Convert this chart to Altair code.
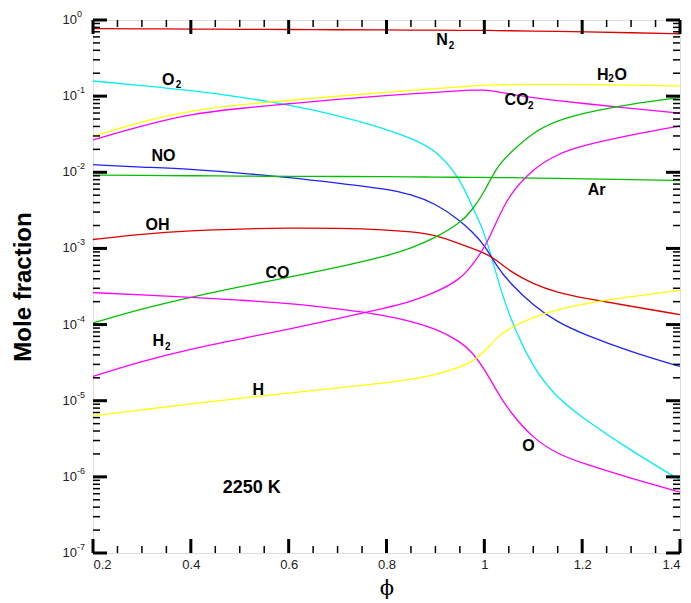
import altair as alt
import pandas as pd

# equivalence ratio grid
phi = [0.2, 0.3, 0.4, 0.5, 0.6, 0.7, 0.8, 0.85, 0.9, 0.95, 0.975, 1.0,
       1.025, 1.05, 1.1, 1.15, 1.2, 1.3, 1.4]

# mole fractions
n2 = [0.77, 0.765, 0.76, 0.755, 0.75, 0.745, 0.74, 0.737, 0.735, 0.732, 0.731, 0.73,
      0.727, 0.723, 0.715, 0.707, 0.70, 0.68, 0.66]
o2 = [0.158, 0.138, 0.119, 0.098, 0.077, 0.056, 0.037, 0.028, 0.020, 0.0085, 0.0035, 0.0017,
      4.4e-4, 1.3e-4, 2.6e-5, 1.07e-5, 6.0e-6, 2.2e-6, 9.1e-7]
h2o = [0.0295, 0.0468, 0.0646, 0.0776, 0.0875, 0.100, 0.112, 0.119, 0.126, 0.132, 0.136, 0.140,
       0.141, 0.142, 0.143, 0.1426, 0.142, 0.140, 0.136]
co2 = [0.0266, 0.0407, 0.0585, 0.0692, 0.0794, 0.0912, 0.102, 0.107, 0.112, 0.1175, 0.120, 0.121,
       0.115, 0.107, 0.0955, 0.0871, 0.0804, 0.0692, 0.0596]
no = [0.0126, 0.0117, 0.0110, 0.00977, 0.00859, 0.00724, 0.00603, 0.00513, 0.00389, 0.00234,
      0.00166, 0.00112, 5.9e-4, 3.63e-4, 1.78e-4, 1.07e-4, 7.6e-5, 4.37e-5, 2.82e-5]
ar = [0.0092, 0.0091, 0.0090, 0.0089, 0.00885, 0.0088, 0.00875, 0.0087, 0.00865, 0.0086, 0.0086,
      0.00855, 0.0085, 0.0085, 0.0084, 0.0083, 0.0082, 0.0080, 0.0078]
oh = [1.31e-3, 1.55e-3, 1.71e-3, 1.80e-3, 1.86e-3, 1.84e-3, 1.76e-3, 1.66e-3, 1.51e-3, 1.15e-3,
      1.0e-3, 8.7e-4, 7.1e-4, 5.1e-4, 3.4e-4, 2.63e-4, 2.24e-4, 1.74e-4, 1.35e-4]
co = [1.05e-4, 1.62e-4, 2.29e-4, 3.16e-4, 4.17e-4, 5.62e-4, 7.94e-4, 1.0e-3, 1.38e-3, 2.14e-3,
      3.16e-3, 5.5e-3, 0.0117, 0.0174, 0.0339, 0.0479, 0.0596, 0.0794, 0.0955]
h2 = [2.09e-5, 3.31e-5, 4.79e-5, 6.46e-5, 8.71e-5, 1.20e-4, 1.66e-4, 2.0e-4, 2.63e-4, 3.89e-4,
      6.03e-4, 1.0e-3, 2.24e-3, 5.01e-3, 0.0112, 0.0174, 0.0224, 0.0309, 0.0407]
o = [2.63e-4, 2.45e-4, 2.29e-4, 2.09e-4, 1.91e-4, 1.62e-4, 1.32e-4, 1.10e-4, 8.91e-5, 6.03e-5,
     4.37e-5, 2.63e-5, 1.35e-5, 7.41e-6, 3.16e-6, 2.0e-6, 1.51e-6, 9.55e-7, 6.31e-7]
h = [6.31e-6, 7.59e-6, 9.12e-6, 1.07e-5, 1.26e-5, 1.48e-5, 1.72e-5, 1.91e-5, 2.19e-5, 2.75e-5,
     3.24e-5, 4.37e-5, 6.76e-5, 8.91e-5, 1.26e-4, 1.58e-4, 1.86e-4, 2.34e-4, 2.82e-4]

species = ["N2", "O2", "H2O", "CO2", "NO", "Ar", "OH", "CO", "H2", "O", "H"]
series = [n2, o2, h2o, co2, no, ar, oh, co, h2, o, h]
colors = ["#e00000", "#00f0f0", "#ffff00", "#ff00ff", "#2020ff", "#00c000",
          "#e00000", "#00c000", "#ff00ff", "#ff00ff", "#ffff00"]

# curve labels (text, phi, mole fraction at label centre)
lab_text = ["N", "O", "NO", "OH", "CO", "H", "H", "O", "Ar", "H", "O", "CO"]
lab_phi = [0.9135, 0.354, 0.344, 0.332, 0.577, 0.3335, 0.538, 1.09, 1.2297, 1.242, 1.279, 1.066]
lab_val = [0.538, 0.164, 0.0166, 0.00204, 4.71e-4, 6.16e-5, 1.38e-5, 2.51e-6, 5.93e-3, 0.192, 0.192, 0.0902]
sub_text = ["2", "2", "2", "2", "2"]
sub_phi = [0.933, 0.375, 0.3527, 1.259, 1.095]
sub_val = [0.449, 0.138, 5.01e-5, 0.169, 0.0752]
note_text = ["2250 K"]
note_phi = [0.5244]
note_val = [7.13e-7]

# axis ticks
x_major = [0.2, 0.4, 0.6, 0.8, 1.0, 1.2, 1.4]
x_minor = [0.25, 0.3, 0.35, 0.45, 0.5, 0.55, 0.65, 0.7, 0.75, 0.85, 0.9, 0.95,
           1.05, 1.1, 1.15, 1.25, 1.3, 1.35]
y_exp = [0, -1, -2, -3, -4, -5, -6, -7]
y_major = [10.0 ** e for e in y_exp]
y_minor = [m * 10.0 ** e for e in y_exp[1:] for m in range(2, 10)]

W, H = 587, 533
FONT = "Liberation Sans"

df = pd.DataFrame([{"phi": p, "frac": v, "species": s}
                   for s, vals in zip(species, series) for p, v in zip(phi, vals)])
labels = pd.DataFrame({"text": lab_text, "phi": lab_phi, "frac": lab_val})
subs = pd.DataFrame({"text": sub_text, "phi": sub_phi, "frac": sub_val})
notes = pd.DataFrame({"text": note_text, "phi": note_phi, "frac": note_val})
xmaj = pd.DataFrame({"phi": x_major})
xmin = pd.DataFrame({"phi": x_minor})
ymaj = pd.DataFrame({"frac": y_major, "exp": [str(e) for e in y_exp]})
ymin = pd.DataFrame({"frac": y_minor})

xs = alt.Scale(domain=[0.2, 1.4], nice=False, zero=False)
ys = alt.Scale(type="log", domain=[1e-7, 1], nice=False)

xa = alt.Axis(values=x_major, format="~g", title="ϕ", grid=False, domain=False, ticks=False,
              labelFont=FONT, labelFontSize=13, labelColor="#222", labelPadding=5,
              titleFont="DejaVu Serif", titleFontSize=21, titleFontWeight="normal",
              titleColor="black", titlePadding=6)
ya = alt.Axis(labels=False, ticks=False, domain=False, grid=False, title="Mole fraction",
              titleFont=FONT, titleFontSize=24, titleFontWeight="bold", titleColor="black",
              titlePadding=58)

X = alt.X("phi:Q", scale=xs, axis=xa, title="ϕ")
Y = alt.Y("frac:Q", scale=ys, axis=ya, title="Mole fraction")

lines = alt.Chart(df).mark_line(strokeWidth=1.3, clip=True, interpolate="basis").encode(
    x=X, y=Y,
    color=alt.Color("species:N", scale=alt.Scale(domain=species, range=colors), legend=None),
)

def ytick(data, x0, x1, sw):
    return alt.Chart(data).mark_rule(color="black", strokeWidth=sw).encode(
        y=Y, x=alt.value(x0), x2=alt.value(x1))

def xtick(data, y0, y1, sw):
    return alt.Chart(data).mark_rule(color="black", strokeWidth=sw).encode(
        x=X, y=alt.value(y0), y2=alt.value(y1))

ticks = [
    ytick(ymaj, 0, 14, 3), ytick(ymin, 0, 7, 1.5),
    ytick(ymaj, W - 14, W, 3), ytick(ymin, W - 7, W, 1.5),
    xtick(xmaj, H - 14, H, 3), xtick(xmin, H - 7, H, 1.5),
    xtick(xmaj, 0, 14, 3), xtick(xmin, 0, 7, 1.5),
]

ylab10 = alt.Chart(ymaj).mark_text(align="right", baseline="middle", font=FONT,
                                   fontSize=13, color="#222").encode(
    y=Y, x=alt.value(-16), text=alt.value("10"))
ylabexp = alt.Chart(ymaj).mark_text(align="left", baseline="middle", font=FONT,
                                    fontSize=9, color="#222", dy=-6).encode(
    y=Y, x=alt.value(-16), text="exp:N")

def textlayer(data, size):
    return alt.Chart(data).mark_text(align="center", baseline="middle", font=FONT,
                                     fontSize=size, fontWeight="bold", color="black").encode(
        x=X, y=Y, text="text:N")

chart = alt.layer(
    lines, *ticks, ylab10, ylabexp,
    textlayer(labels, 16), textlayer(subs, 10), textlayer(notes, 18),
).properties(
    width=W, height=H,
    autosize=alt.AutoSizeParams(type="none"),
    padding={"left": 85, "top": 12, "right": 3, "bottom": 50},
).configure_view(stroke="black", strokeWidth=3).configure(background="white")

chart.save("out.html", embed_options={"renderer": "svg", "actions": False})
